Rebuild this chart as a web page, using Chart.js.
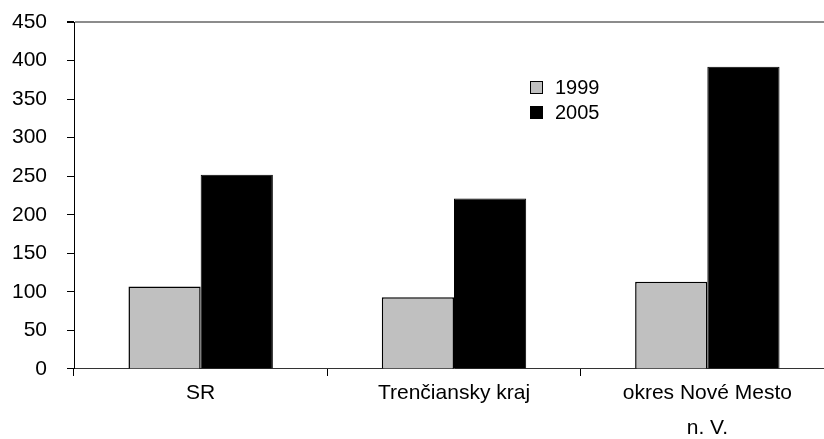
<!DOCTYPE html>
<html>
<head>
<meta charset="utf-8">
<script src="https://cdn.jsdelivr.net/npm/chart.js@4"></script>
<style>
    html, body { margin: 0; padding: 0; background: #fff; overflow: hidden; }
    #wrap { position: absolute; left: 0; top: 0; width: 840px; height: 446px; }
    #legend { position: absolute; left: 530px; top: 75px; font: 20px "Liberation Sans", Arial, sans-serif; color: #000; }
    .leg-row { height: 25px; display: flex; align-items: center; }
    .leg-box { width: 13px; height: 13px; box-sizing: border-box; border: 1px solid #000; margin-right: 12px; }
</style>
</head>
<body>
<div id="wrap">
    <canvas id="chart"></canvas>
    <div id="legend"></div>
</div>
<script>
const categories = ['SR', 'Trenčiansky kraj', ['okres Nové Mesto', 'n. V.']];
const values1999 = [107, 93, 113];
const values2005 = [252, 221, 392];
const yTicks = [0, 50, 100, 150, 200, 250, 300, 350, 400, 450];

const FONT = { family: '"Liberation Sans", Arial, sans-serif', size: 21 };

const chart = new Chart(document.getElementById('chart'), {
    type: 'bar',
    data: {
        labels: categories,
        datasets: [
            {
                label: '1999',
                data: values1999,
                backgroundColor: '#c0c0c0',
                borderColor: '#000',
                borderWidth: 1.5,
                categoryPercentage: 0.57,
                barPercentage: 1
            },
            {
                label: '2005',
                data: values2005,
                backgroundColor: '#000',
                borderColor: '#000',
                borderWidth: 1,
                categoryPercentage: 0.57,
                barPercentage: 1
            }
        ]
    },
    options: {
        responsive: true,
        maintainAspectRatio: false,
        animation: false,
        layout: {
            padding: { top: 22, left: 12, right: 6, bottom: 0 }
        },
        plugins: {
            legend: { display: false },
            tooltip: { enabled: false }
        },
        scales: {
            x: {
                offset: true,
                grid: {
                    offset: true,
                    drawOnChartArea: false,
                    tickLength: 7,
                    tickColor: '#000'
                },
                border: { color: '#333', width: 1 },
                ticks: {
                    color: '#000',
                    padding: 0,
                    maxRotation: 0,
                    font: { ...FONT, lineHeight: 1.667 }
                }
            },
            y: {
                min: 0,
                max: 450,
                afterBuildTicks: (scale) => {
                    scale.ticks = yTicks.map(v => ({ value: v }));
                },
                afterFit: (scale) => {
                    // fixed axis width, no extra room above the top label
                    scale.width = 62;
                    scale.paddingTop = 0;
                    scale.paddingBottom = 0;
                },
                grid: {
                    color: (ctx) => ctx.tick && ctx.tick.value === 450 ? '#8c8c8c' : 'rgba(0,0,0,0)',
                    lineWidth: (ctx) => ctx.tick && ctx.tick.value === 450 ? 2 : 1,
                    tickColor: '#000',
                    tickLength: 7
                },
                border: { color: '#000', width: 1 },
                ticks: {
                    color: '#000',
                    padding: 20,
                    font: FONT
                }
            }
        }
    }
});

// legend in the top middle of the plot
const legend = document.getElementById('legend');
chart.data.datasets.forEach(ds => {
    const row = document.createElement('div');
    row.className = 'leg-row';
    const box = document.createElement('span');
    box.className = 'leg-box';
    box.style.background = ds.backgroundColor;
    row.appendChild(box);
    row.appendChild(document.createTextNode(ds.label));
    legend.appendChild(row);
});
</script>
</body>
</html>
